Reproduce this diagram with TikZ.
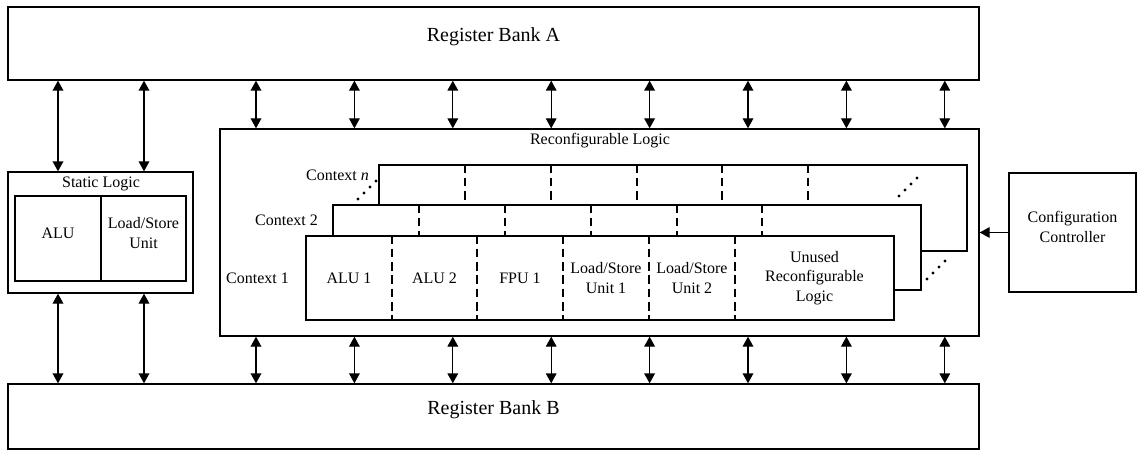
\documentclass[tikz,border=0pt]{standalone}
\usepackage{fontspec}
\setmainfont{Liberation Serif}
\usetikzlibrary{positioning, arrows.meta, calc, fit}

\begin{document}
\begin{tikzpicture}[
    x=0.75pt, y=-0.75pt,
    line width=1pt,
    font=\fontsize{12}{14.5}\selectfont,
    box/.style={draw, inner sep=0pt},
    bank/.style={box, font=\fontsize{15}{18}\selectfont},
    ctx/.style={draw, fill=white, inner sep=0pt},
    cut/.style={line width=2pt, dash pattern=on 6.5pt off 3.5pt},
    bus/.style={{Triangle[width=8pt,length=7.5pt]}-{Triangle[width=8pt,length=7.5pt]}},
    cfg/.style={-{Triangle[width=8pt,length=7.5pt]}},
    dot/.style={circle, fill, inner sep=0pt, minimum size=2.4pt}
]
    \useasboundingbox (0,0) rectangle (1137,456);

    % register banks
    \node[bank, fit={(8,7) (979,80)}] (bankA) {Register Bank A};
    \node[bank, fit={(8,384) (979,449)}] (bankB) {Register Bank B};

    % static logic
    \node[box, fit={(8,172) (193,293)}] (static) {};
    \node (statlbl) at (101,184) {Static Logic};
    \node[box, fit={(15,196) (101,281)}] (salu) {ALU};
    \node[box, fit={(101,196) (186,281)}, align=center] (slsu) {Load/Store\\Unit};

    % reconfigurable logic
    \node[box, fit={(220,129) (979,336)}] (reconf) {};
    \node (reclbl) at (600,141) {Reconfigurable Logic};

    % contexts, back to front
    \node[ctx, fit={(379,165) (967,251)}] (ctxn) {};
    \foreach \x in {465,551,637,722,808}
        \draw[cut] (\x,0 |- ctxn.north) -- (\x,0 |- ctxn.south);
    \node[ctx, fit={(333,205) (921,290)}] (ctx2) {};
    \foreach \x in {419,505,591,677,762}
        \draw[cut] (\x,0 |- ctx2.north) -- (\x,0 |- ctx2.south);
    \node[ctx, fit={(306,236) (894,320)}] (ctx1) {};
    \foreach \x in {392,477,563,649,735}
        \draw[cut] (\x,0 |- ctx1.north) -- (\x,0 |- ctx1.south);

    \node[anchor=east] (lbln) at (374,175) {Context \textit{n}};
    \node[anchor=east] (lbl2) at (323,220) {Context 2};
    \node[anchor=east] (lbl1) at (294,278) {Context 1};

    % units of context 1
    \node (alu1) at (349,278) {ALU 1};
    \node (alu2) at (434.5,278) {ALU 2};
    \node (fpu1) at (520,278) {FPU 1};
    \node[align=center] (lsu1) at (606,278) {Load/Store\\Unit 1};
    \node[align=center] (lsu2) at (692,278) {Load/Store\\Unit 2};
    \node[align=center] (unused) at (814.5,278) {Unused\\Reconfigurable\\Logic};

    % dots between the contexts
    \foreach \i in {0,...,3} {
        \node[dot] at (358+6*\i, 199-6*\i) {};
        \node[dot] at (899+6*\i, 196-6*\i) {};
        \node[dot] at (927+6*\i, 279-6*\i) {};
    }

    % configuration controller
    \node[box, fit={(1009,173) (1136,292)}, align=center] (config) {Configuration\\Controller};
    \draw[cfg] (config.west) -- (config.west -| reconf.east);

    % buses
    \draw[bus] (58,0 |- bankA.south) -- (58,0 |- static.north);
    \draw[bus] (144,0 |- bankA.south) -- (144,0 |- static.north);
    \draw[bus] (58,0 |- static.south) -- (58,0 |- bankB.north);
    \draw[bus] (144,0 |- static.south) -- (144,0 |- bankB.north);
    \foreach \i in {0,...,7} {
        \pgfmathsetmacro\bx{256+98.4*\i}
        \draw[bus] (\bx,0 |- bankA.south) -- (\bx,0 |- reconf.north);
        \draw[bus] (\bx,0 |- reconf.south) -- (\bx,0 |- bankB.north);
    }
\end{tikzpicture}
\end{document}
